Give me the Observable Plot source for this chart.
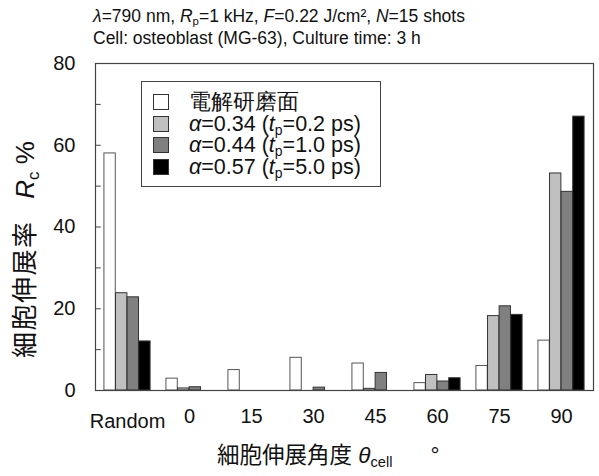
<!DOCTYPE html>
<html>
<head>
<meta charset="utf-8">
<script src="https://cdn.jsdelivr.net/npm/d3@7"></script>
<script src="https://cdn.jsdelivr.net/npm/@observablehq/plot@0.6"></script>
<style>
  body { margin: 0; background: #fff; font-family: Arial, "Liberation Sans", sans-serif; }
  #wrap { position: relative; width: 599px; height: 476px; }
  .title { position: absolute; left: 93px; font-size: 17.5px; line-height: 20px; color: #111; white-space: nowrap; }
  .legend { position: absolute; left: 141px; top: 81px; width: 238px; height: 104px; border: 1px solid #444; background: #fff; box-sizing: content-box; }
  .row { position: absolute; left: 11px; height: 20px; line-height: 20px; display: flex; align-items: center; font-size: 21.5px; color: #111; white-space: nowrap; }
  .sw { width: 14px; height: 14px; border: 1px solid #333; margin-right: 20px; flex: none; }
  .ylab { position: absolute; left: 11px; top: 358px; transform-origin: left top; transform: rotate(-90deg); line-height: 28px; font-size: 26px; white-space: nowrap; color: #111; font-family: Arial, "Liberation Sans", "Noto Sans CJK JP", sans-serif; }
  .ylab .cjk { letter-spacing: 1.5px; }
  .xlab { position: absolute; left: 217px; top: 443px; line-height: 26px; font-size: 22.5px; white-space: nowrap; color: #111; font-family: Arial, "Liberation Sans", "Noto Sans CJK JP", sans-serif; }
  i { font-style: italic; }
  sub { font-size: 0.65em; vertical-align: -0.3em; line-height: 0; }
</style>
</head>
<body>
<div id="wrap">
  <div class="title" style="top:6px"><i>λ</i>=790 nm, <i>R</i><sub>p</sub>=1 kHz, <i>F</i>=0.22 J/cm², <i>N</i>=15 shots</div>
  <div class="title" style="top:28px">Cell: osteoblast (MG-63), Culture time: 3 h</div>
  <div id="chart" style="position:absolute;left:0;top:0"></div>
  <div class="legend" id="legend"></div>
  <div class="ylab"><span class="cjk">細胞伸展率</span>&nbsp;&nbsp;&nbsp;<i>R</i><sub>c</sub> %</div>
  <div class="xlab">細胞伸展角度 <i>θ</i><sub>cell</sub><span style="display:inline-block;width:38px"></span>°</div>
</div>
<script>
const categories = ["Random", "0", "15", "30", "45", "60", "75", "90"];
const seriesNames = ["電解研磨面", "α=0.34 (tp=0.2 ps)", "α=0.44 (tp=1.0 ps)", "α=0.57 (tp=5.0 ps)"];
const seriesColors = ["#ffffff", "#c0c0c0", "#808080", "#000000"];
const electropolished = [58, 2.9, 5.0, 8.0, 6.6, 1.8, 6.0, 12.2];
const alpha034 = [23.8, 0.5, 0, 0, 0.4, 3.8, 18.2, 53.1];
const alpha044 = [22.8, 0.8, 0, 0.7, 4.3, 2.2, 20.6, 48.6];
const alpha057 = [12.0, 0, 0, 0, 0, 3.0, 18.5, 67.0];
const yTicks = [0, 10, 20, 30, 40, 50, 60, 70, 80];

const allSeries = [electropolished, alpha034, alpha044, alpha057];
const W = 599, H = 476, ml = 95, mr = 6, mt = 63, mb = 86;
const bw = (W - ml - mr) / categories.length;
const barW = 11.6;
const groupW = barW * 4;
const off = (bw - groupW) / 2;

const marks = [];
allSeries.forEach((vals, i) => {
  const data = categories.map((c, j) => ({cat: c, v: vals[j]})).filter(d => d.v > 0);
  marks.push(Plot.barY(data, {
    x: "cat", y: "v",
    fill: seriesColors[i],
    stroke: i === 0 ? "#555" : "#333",
    strokeWidth: 1,
    insetLeft: off + i * barW,
    insetRight: bw - off - (i + 1) * barW
  }));
});

const chart = Plot.plot({
  width: W, height: H,
  marginLeft: ml, marginRight: mr, marginTop: mt, marginBottom: mb,
  style: {fontFamily: "Arial, 'Liberation Sans', sans-serif", fontSize: "20px", color: "#111", background: "transparent"},
  x: {type: "band", domain: categories, padding: 0, label: null},
  y: {domain: [0, 80], label: null},
  marks: [
    ...marks,
    Plot.tickY(yTicks, {y: d => d, x: () => categories[0], stroke: "#444", insetRight: bw - 5}),
    Plot.frame({stroke: "#444", strokeWidth: 1.2}),
    Plot.axisY({ticks: yTicks.filter(t => t % 20 === 0), tickSize: 0, tickPadding: 20, fontSize: 20, label: null}),
    Plot.axisX({ticks: categories.filter(c => c !== "Random"), tickSize: 0, tickPadding: 18, fontSize: 20, label: null}),
    Plot.axisX({ticks: ["Random"], tickSize: 0, tickPadding: 23, fontSize: 20, label: null})
  ]
});
document.getElementById("chart").appendChild(chart);

const legendHTML = [
  "電解研磨面",
  "<i>α</i>=0.34 (<i>t</i><sub>p</sub>=0.2 ps)",
  "<i>α</i>=0.44 (<i>t</i><sub>p</sub>=1.0 ps)",
  "<i>α</i>=0.57 (<i>t</i><sub>p</sub>=5.0 ps)"
];
const leg = document.getElementById("legend");
seriesNames.forEach((name, i) => {
  const row = document.createElement("div");
  row.className = "row";
  row.style.top = (10 + i * 21.7) + "px";
  row.title = name;
  row.innerHTML = `<span class="sw" style="background:${seriesColors[i]}"></span><span>${legendHTML[i]}</span>`;
  leg.appendChild(row);
});
</script>
</body>
</html>
